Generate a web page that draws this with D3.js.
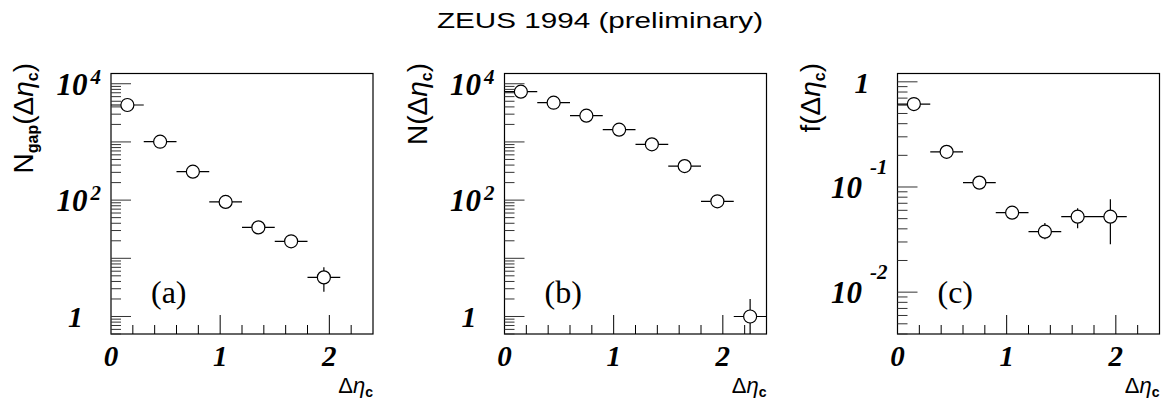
<!DOCTYPE html>
<html>
<head>
<meta charset="utf-8">
<script src="https://cdn.jsdelivr.net/npm/d3@7"></script>
<style>
  body { margin: 0; background: #fff; }
  svg { display: block; }
</style>
</head>
<body>
<div id="chart"></div>
<script>
// ZEUS 1994 (preliminary) - gap distributions, three log panels

// bin centres (bin width 0.3 in delta eta_c)
const binCentres = [0.15, 0.45, 0.75, 1.05, 1.35, 1.65, 1.95];
const binCentresAll = [0.15, 0.45, 0.75, 1.05, 1.35, 1.65, 1.95, 2.25];
const binHalfWidth = 0.15;

// (a) N_gap
const nGap   = [4310, 1009, 308, 93, 34, 19.6, 4.7];
const nGapLo = [4200, 980, 295, 87, 31, 17.5, 2.67];
const nGapHi = [4420, 1040, 321, 99, 37, 21.9, 7.0];

// (b) N
const nAll   = [7300, 4720, 2825, 1623, 910, 385, 95.5, 1.0];
const nAllLo = [7200, 4650, 2770, 1585, 880, 366, 86, 0];
const nAllHi = [7400, 4790, 2880, 1661, 940, 404, 105, 2.0];

// (c) f = N_gap / N
const fGap   = [0.615, 0.216, 0.110, 0.057, 0.0376, 0.0522, 0.0522];
const fGapLo = [0.600, 0.210, 0.106, 0.054, 0.0318, 0.0405, 0.0285];
const fGapHi = [0.630, 0.222, 0.114, 0.060, 0.0455, 0.0628, 0.0763];

// axis labels
const xTickLabels = [0, 1, 2];
const yLabelExpAB = [0, 2, 4];
const yLabelExpC = [0, -1, -2];

const width = 1161, height = 401;
const frameTop = 73.5, frameBottom = 334, frameW = 262;

const panels = [
  { left: 111, xs: binCentres, ys: nGap, lo: nGapLo, hi: nGapHi,
    domain: [0.5, 1.5e4], exps: yLabelExpAB, name: 'N', sub: 'gap', tag: '(a)' },
  { left: 504.5, xs: binCentresAll, ys: nAll, lo: nAllLo, hi: nAllHi,
    domain: [0.5, 1.5e4], exps: yLabelExpAB, name: 'N', sub: null, tag: '(b)' },
  { left: 897.5, xs: binCentres, ys: fGap, lo: fGapLo, hi: fGapHi,
    domain: [0.004, 1.2], exps: yLabelExpC, name: 'f', sub: null, tag: '(c)' }
];

const svg = d3.select('#chart')
  .append('svg')
  .attr('width', width)
  .attr('height', height);

// title
svg.append('text')
  .attr('x', 600)
  .attr('y', 28)
  .attr('text-anchor', 'middle')
  .attr('textLength', 326)
  .attr('lengthAdjust', 'spacingAndGlyphs')
  .style('font-family', 'Liberation Sans, Arial, sans-serif')
  .style('font-size', '22px')
  .text('ZEUS 1994 (preliminary)');

const serif = 'Liberation Serif, Times New Roman, serif';
const sans = 'Liberation Sans, Arial, sans-serif';

panels.forEach(p => {
  const x = d3.scaleLinear().domain([0, 2.4]).range([p.left, p.left + frameW]);
  const y = d3.scaleLog().domain(p.domain).range([frameBottom, frameTop]);
  const g = svg.append('g');

  // frame
  g.append('rect')
    .attr('x', p.left)
    .attr('y', frameTop)
    .attr('width', frameW)
    .attr('height', frameBottom - frameTop)
    .attr('fill', 'none')
    .attr('stroke', '#000')
    .attr('stroke-width', 1.2);

  // x ticks (inside, from bottom)
  g.selectAll('.xt')
    .data(x.ticks(12).filter(t => t > 0 && t < 2.4))
    .enter()
    .append('line')
    .attr('x1', d => x(d))
    .attr('x2', d => x(d))
    .attr('y1', frameBottom)
    .attr('y2', d => Math.abs(d - Math.round(d)) < 1e-6 ? frameBottom - 19 : frameBottom - 9)
    .attr('stroke', '#000')
    .attr('stroke-width', 1);

  // y ticks (inside, from left)
  g.selectAll('.yt')
    .data(y.ticks())
    .enter()
    .append('line')
    .attr('x1', p.left)
    .attr('x2', d => Number.isInteger(Math.round(Math.log10(d) * 1e6) / 1e6) ? p.left + 20 : p.left + 10)
    .attr('y1', d => y(d))
    .attr('y2', d => y(d))
    .attr('stroke', '#333')
    .attr('stroke-width', 1);

  // x tick labels
  g.selectAll('.xl')
    .data(xTickLabels)
    .enter()
    .append('text')
    .attr('x', d => x(d))
    .attr('y', 366)
    .attr('text-anchor', 'middle')
    .style('font-family', serif)
    .style('font-weight', 'bold')
    .style('font-style', 'italic')
    .style('font-size', '29px')
    .text(d => d);

  // y tick labels: "1" or 10^n
  p.exps.forEach(e => {
    const ty = y(Math.pow(10, e));
    const t = g.append('text')
      .attr('text-anchor', 'end')
      .attr('y', ty + 11)
      .style('font-family', serif)
      .style('font-weight', 'bold')
      .style('font-style', 'italic');
    if (e === 0) {
      t.attr('x', p.left - 28).style('font-size', '30px').text('1');
    } else {
      t.attr('x', p.left - 10);
      t.append('tspan').style('font-size', '31px').text('10');
      t.append('tspan')
        .attr('dx', e < 0 ? 8 : 3)
        .attr('dy', e < 0 ? -24 : -11)
        .style('font-size', '21px')
        .text(e);
    }
  });

  // error bars
  const pts = p.xs.map((xv, i) => ({ x: xv, y: p.ys[i], lo: p.lo[i], hi: p.hi[i] }));
  const clampY = v => v <= p.domain[0] ? frameBottom : Math.max(frameTop, y(v));

  g.selectAll('.hb')
    .data(pts)
    .enter()
    .append('line')
    .attr('x1', d => x(d.x - binHalfWidth))
    .attr('x2', d => x(d.x + binHalfWidth))
    .attr('y1', d => y(d.y))
    .attr('y2', d => y(d.y))
    .attr('stroke', '#000')
    .attr('stroke-width', 1.2);

  g.selectAll('.vb')
    .data(pts)
    .enter()
    .append('line')
    .attr('x1', d => x(d.x))
    .attr('x2', d => x(d.x))
    .attr('y1', d => clampY(d.lo))
    .attr('y2', d => clampY(d.hi))
    .attr('stroke', '#000')
    .attr('stroke-width', 1.2);

  g.selectAll('circle')
    .data(pts)
    .enter()
    .append('circle')
    .attr('cx', d => x(d.x))
    .attr('cy', d => y(d.y))
    .attr('r', 6.5)
    .attr('fill', '#fff')
    .attr('stroke', '#000')
    .attr('stroke-width', 1.2);

  // panel tag
  g.append('text')
    .attr('x', p.left + 40)
    .attr('y', 303)
    .style('font-family', serif)
    .style('font-size', '32px')
    .text(p.tag);

  // x axis title
  const xt = g.append('text')
    .attr('x', p.left + frameW)
    .attr('y', 393)
    .attr('text-anchor', 'end')
    .style('font-family', sans)
    .style('font-size', '22px');
  xt.append('tspan').text('Δ');
  xt.append('tspan').style('font-style', 'italic').text('η');
  xt.append('tspan').attr('dy', 4).style('font-size', '14px').style('font-weight', 'bold').text('c');

  // y axis title (rotated)
  const yt = g.append('text')
    .attr('transform', `translate(${p.left - 78},63) rotate(-90)`)
    .attr('text-anchor', 'end')
    .style('font-family', sans)
    .style('font-size', '28px');
  yt.append('tspan').text(p.name);
  if (p.sub) {
    yt.append('tspan').attr('dy', 5).style('font-size', '16px').style('font-weight', 'bold').text(p.sub);
    yt.append('tspan').attr('dy', -5).text('(Δ');
  } else {
    yt.append('tspan').text('(Δ');
  }
  yt.append('tspan').style('font-style', 'italic').text('η');
  yt.append('tspan').attr('dy', 5).style('font-size', '16px').style('font-weight', 'bold').text('c');
  yt.append('tspan').attr('dy', -5).text(')');
});
</script>
</body>
</html>
